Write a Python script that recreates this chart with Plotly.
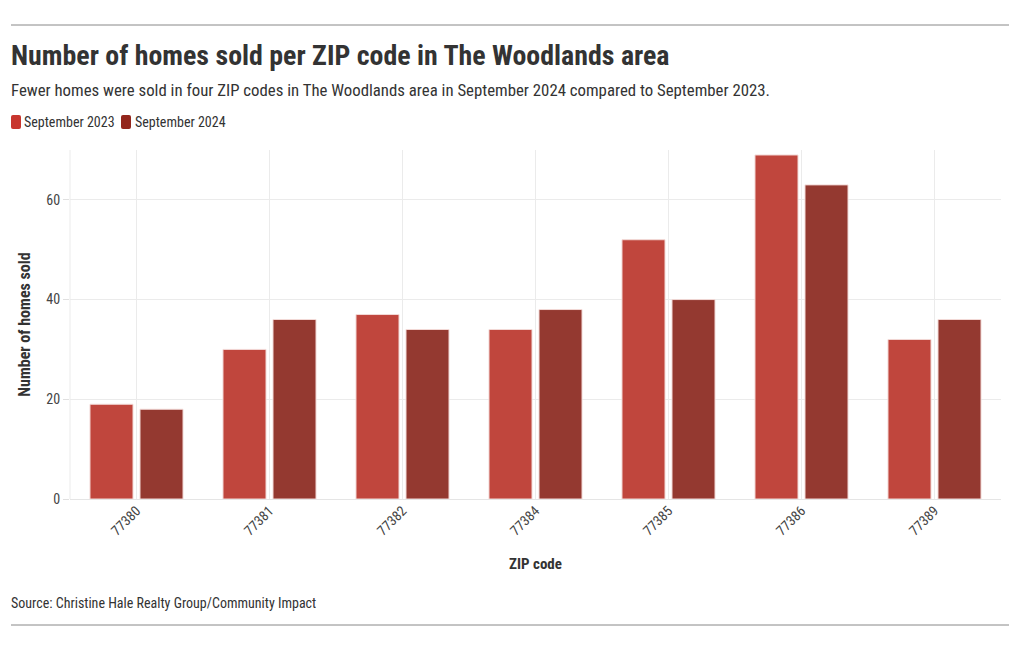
import plotly.graph_objects as go

zip_codes = ["77380", "77381", "77382", "77384", "77385", "77386", "77389"]
sep_2023 = [19, 30, 37, 34, 52, 69, 32]
sep_2024 = [18, 36, 34, 38, 40, 63, 36]
y_ticks = [0, 20, 40, 60]
series_names = ["September 2023", "September 2024"]
bar_colors = ["#c0463d", "#943930"]
legend_colors = ["#c8362e", "#93261c"]

FONT = "Roboto Condensed, Liberation Sans Narrow, DejaVu Sans Condensed, Roboto, sans-serif"
OFF = 8  # page body margin
W, H = 1020 - 2 * OFF, 650 - 2 * OFF
ML = 70 - OFF
MT = 150 - OFF
MR = W - (1001 - OFF)
MB = H - (499 - OFF)
PW, PH = W - ML - MR, H - MT - MB


def px(x):
    """reference page pixel x -> paper x"""
    return (x - OFF - ML) / PW


def py(y):
    """reference page pixel y -> paper y"""
    return (H - MB - (y - OFF)) / PH


def rounded_rect(x0, y0, x1, y1, r):
    X0, X1 = px(x0), px(x1)
    Y0, Y1 = py(y0), py(y1)
    rx, ry = r / PW, r / PH
    return (f"M {X0+rx} {Y0} L {X1-rx} {Y0} Q {X1} {Y0} {X1} {Y0-ry} "
            f"L {X1} {Y1+ry} Q {X1} {Y1} {X1-rx} {Y1} L {X0+rx} {Y1} "
            f"Q {X0} {Y1} {X0} {Y1+ry} L {X0} {Y0-ry} Q {X0} {Y0} {X0+rx} {Y0} Z")


fig = go.Figure()
for name, vals, col in zip(series_names, [sep_2023, sep_2024], bar_colors):
    fig.add_trace(go.Bar(name=name, x=zip_codes, y=vals, showlegend=False,
                         marker=dict(color=col, line=dict(color="#f2d9d6", width=1))))

legend_x = [(11, 21, 24), (121, 131, 135)]
shapes = [
    dict(type="line", xref="paper", yref="paper", x0=px(11), x1=px(1009), y0=py(25), y1=py(25),
         line=dict(color="#888888", width=1)),
    dict(type="line", xref="paper", yref="paper", x0=px(11), x1=px(1009), y0=py(625), y1=py(625),
         line=dict(color="#888888", width=1)),
    dict(type="line", xref="paper", yref="paper", x0=0, x1=0, y0=0, y1=1,
         line=dict(color="#ebebeb", width=1), layer="below"),
]
annotations = [
    dict(text="<b>Number of homes sold per ZIP code in The Woodlands area</b>", xref="paper", yref="paper",
         x=px(9), y=py(55), xanchor="left", yanchor="middle", showarrow=False,
         font=dict(size=27.9, color="#333333", family=FONT)),
    dict(text="Fewer homes were sold in four ZIP codes in The Woodlands area in September 2024 compared to September 2023.",
         xref="paper", yref="paper", x=px(9), y=py(90), xanchor="left", yanchor="middle", showarrow=False,
         font=dict(size=16.8, color="#333333", family=FONT)),
    dict(text="Source: Christine Hale Realty Group/Community Impact", xref="paper", yref="paper",
         x=px(9), y=py(603), xanchor="left", yanchor="middle", showarrow=False,
         font=dict(size=14, color="#333333", family=FONT)),
]
for (sx0, sx1, tx), name, col in zip(legend_x, series_names, legend_colors):
    shapes.append(dict(type="path", xref="paper", yref="paper", path=rounded_rect(sx0, 115, sx1, 129, 2),
                       fillcolor=col, line=dict(width=0)))
    annotations.append(dict(text=name, xref="paper", yref="paper", x=px(tx - 2), y=py(122),
                            xanchor="left", yanchor="middle", showarrow=False,
                            font=dict(size=14, color="#333333", family=FONT)))

fig.update_layout(
    width=W, height=H,
    margin=dict(l=ML, r=MR, t=MT, b=MB),
    paper_bgcolor="white", plot_bgcolor="white",
    font=dict(family=FONT, color="#333333"),
    barmode="group", bargap=0.248, bargroupgap=0.14,
    showlegend=False,
    xaxis=dict(type="category", showgrid=True, gridcolor="#ebebeb", tickangle=-45,
               tickfont=dict(size=14, color="#444444"), ticks="", showline=False,
               title=dict(text="<b>ZIP code</b>", font=dict(size=15, color="#333333"), standoff=20),
               zeroline=False),
    yaxis=dict(range=[0, 70], tickvals=y_ticks, showgrid=True, gridcolor="#ebebeb",
               tickfont=dict(size=14, color="#444444"), ticks="outside", ticklen=6,
               tickcolor="#e0e0e0", showline=False,
               zeroline=True, zerolinecolor="#e5e5e5", zerolinewidth=1,
               title=dict(text="<b>Number of homes sold</b>", font=dict(size=16, color="#333333"), standoff=11)),
    shapes=shapes,
    annotations=annotations,
)

fig.write_html("out.html")
